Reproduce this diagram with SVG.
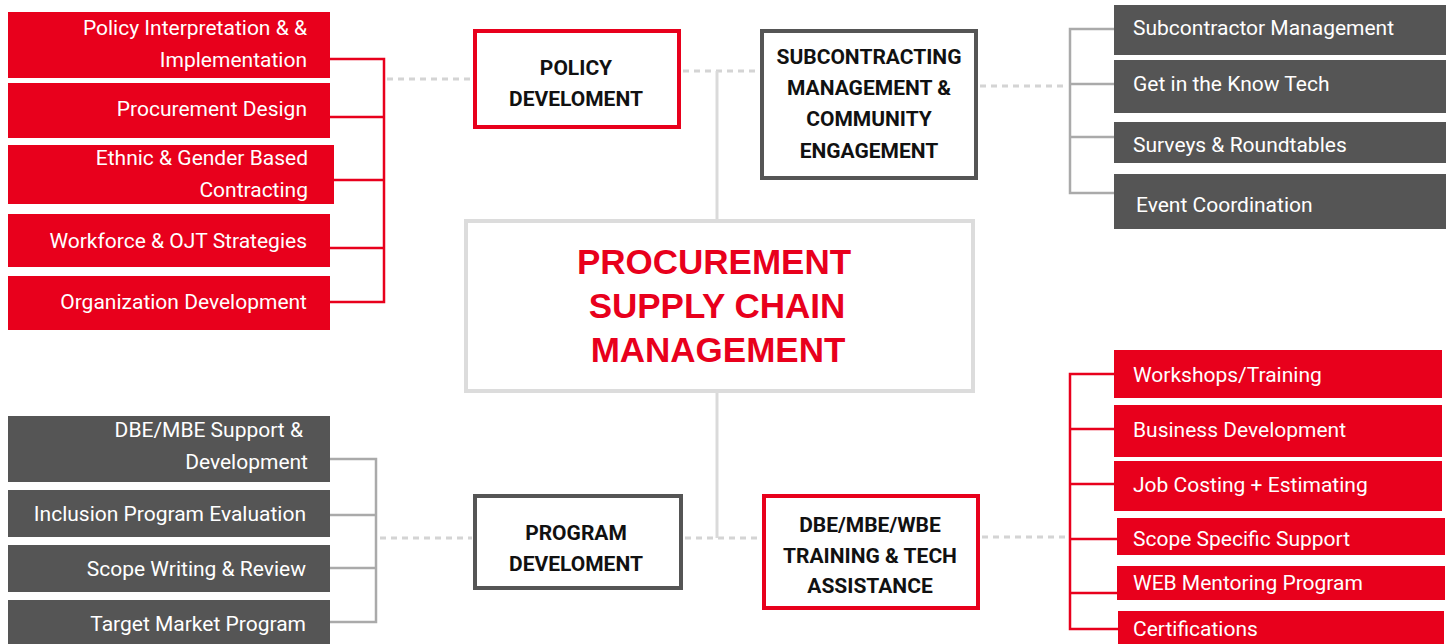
<svg xmlns="http://www.w3.org/2000/svg" width="1451" height="644" viewBox="0 0 1451 644">
<style>
.red{fill:#e8001c}
.gray{fill:#555555}
.item{font-family:Roboto,"Liberation Sans",sans-serif;font-size:21px;fill:#ffffff}
.end{text-anchor:end}
.head{font-family:Roboto,"Liberation Sans",sans-serif;font-size:21px;font-weight:bold;fill:#111111;text-anchor:middle}
.title{font-family:"Liberation Sans",Arial,sans-serif;font-size:35px;font-weight:bold;fill:#e8001c;text-anchor:middle}
.dash{stroke:#d4d4d4;stroke-width:3;stroke-dasharray:6 5;fill:none}
.solid{stroke:#dadada;stroke-width:3;fill:none}
.bred{stroke:#e8001c;stroke-width:2.5;fill:none}
.bgray{stroke:#aaaaaa;stroke-width:2.5;fill:none}
</style>
<rect width="1451" height="644" fill="#ffffff"/>
<g id="connectors">
<line class="dash" x1="387" y1="79" x2="472" y2="79"/>
<line class="dash" x1="683" y1="71" x2="760" y2="71"/>
<line class="dash" x1="980" y1="86" x2="1068" y2="86"/>
<line class="dash" x1="380" y1="538" x2="472" y2="538"/>
<line class="dash" x1="685" y1="538" x2="762" y2="538"/>
<line class="dash" x1="982" y1="537" x2="1068" y2="537"/>
<polyline class="solid" points="717,71 717,220"/>
<polyline class="solid" points="717,392 717,538"/>
<path class="bred" d="M330 59H384V302H330M330 117H384M334 180H384M330 248H384"/>
<path class="bgray" d="M1114 29H1070V193H1114M1070 84H1114M1070 137H1114"/>
<path class="bgray" d="M330 459H376V622H330M330 515H376M330 568H376"/>
<path class="bred" d="M1114 374H1070V629H1118M1070 429H1114M1070 484H1114M1070 539H1117M1070 593H1117"/>
</g>
<g id="policy-items">
<rect class="red" x="8" y="12" width="322" height="66"/>
<text class="item end" x="307" y="35">Policy Interpretation &amp; &amp;</text>
<text class="item end" x="307" y="67">Implementation</text>
<rect class="red" x="8" y="83" width="322" height="55"/>
<text class="item end" x="307" y="116">Procurement Design</text>
<rect class="red" x="8" y="145" width="326" height="59"/>
<text class="item end" x="308" y="165">Ethnic &amp; Gender Based</text>
<text class="item end" x="308" y="197">Contracting</text>
<rect class="red" x="8" y="214" width="322" height="53"/>
<text class="item end" x="307" y="248">Workforce &amp; OJT Strategies</text>
<rect class="red" x="8" y="276" width="322" height="54"/>
<text class="item end" x="307" y="309">Organization Development</text>
</g>
<g id="subcontracting-items">
<rect class="gray" x="1114" y="5" width="332" height="50"/>
<text class="item" x="1133" y="35">Subcontractor Management</text>
<rect class="gray" x="1114" y="60" width="332" height="53"/>
<text class="item" x="1133" y="91">Get in the Know Tech</text>
<rect class="gray" x="1114" y="122" width="332" height="41"/>
<text class="item" x="1133" y="152">Surveys &amp; Roundtables</text>
<rect class="gray" x="1114" y="174" width="332" height="55"/>
<text class="item" x="1136" y="212">Event Coordination</text>
</g>
<g id="program-items">
<rect class="gray" x="8" y="416" width="322" height="66"/>
<text class="item end" x="303" y="437">DBE/MBE Support &amp;</text>
<text class="item end" x="308" y="469">Development</text>
<rect class="gray" x="8" y="490" width="322" height="47"/>
<text class="item end" x="306" y="521">Inclusion Program Evaluation</text>
<rect class="gray" x="8" y="545" width="322" height="47"/>
<text class="item end" x="306" y="576">Scope Writing &amp; Review</text>
<rect class="gray" x="8" y="600" width="322" height="44"/>
<text class="item end" x="306" y="631">Target Market Program</text>
</g>
<g id="training-items">
<rect class="red" x="1114" y="350" width="328" height="48"/>
<text class="item" x="1133" y="382">Workshops/Training</text>
<rect class="red" x="1114" y="405" width="328" height="52"/>
<text class="item" x="1133" y="437">Business Development</text>
<rect class="red" x="1114" y="461" width="328" height="50"/>
<text class="item" x="1133" y="492">Job Costing + Estimating</text>
<rect class="red" x="1117" y="518" width="328" height="37"/>
<text class="item" x="1133" y="546">Scope Specific Support</text>
<rect class="red" x="1117" y="566" width="328" height="34"/>
<text class="item" x="1133" y="590">WEB Mentoring Program</text>
<rect class="red" x="1118" y="611" width="326" height="33"/>
<text class="item" x="1133" y="636">Certifications</text>
</g>
<g id="policy-node">
<rect x="475" y="31" width="204" height="96" fill="#ffffff" stroke="#e8001c" stroke-width="4"/>
<text class="head" x="576" y="75">POLICY</text>
<text class="head" x="576" y="106">DEVELOMENT</text>
</g>
<g id="subcontracting-node">
<rect x="762" y="31" width="214" height="147" fill="#ffffff" stroke="#555555" stroke-width="4"/>
<text class="head" x="869" y="64">SUBCONTRACTING</text>
<text class="head" x="869" y="95">MANAGEMENT &amp;</text>
<text class="head" x="869" y="126">COMMUNITY</text>
<text class="head" x="869" y="158">ENGAGEMENT</text>
</g>
<g id="center-node">
<rect x="466" y="221" width="507" height="170" fill="#ffffff" stroke="#dcdcdc" stroke-width="4"/>
<text class="title" x="714" y="274">PROCUREMENT</text>
<text class="title" x="717" y="318">SUPPLY CHAIN</text>
<text class="title" x="718" y="362">MANAGEMENT</text>
</g>
<g id="program-node">
<rect x="475" y="496" width="206" height="92" fill="#ffffff" stroke="#555555" stroke-width="4"/>
<text class="head" x="576" y="540">PROGRAM</text>
<text class="head" x="576" y="571">DEVELOMENT</text>
</g>
<g id="training-node">
<rect x="764" y="496" width="214" height="112" fill="#ffffff" stroke="#e8001c" stroke-width="4"/>
<text class="head" x="870" y="532">DBE/MBE/WBE</text>
<text class="head" x="870" y="563">TRAINING &amp; TECH</text>
<text class="head" x="870" y="593">ASSISTANCE</text>
</g>
</svg>
